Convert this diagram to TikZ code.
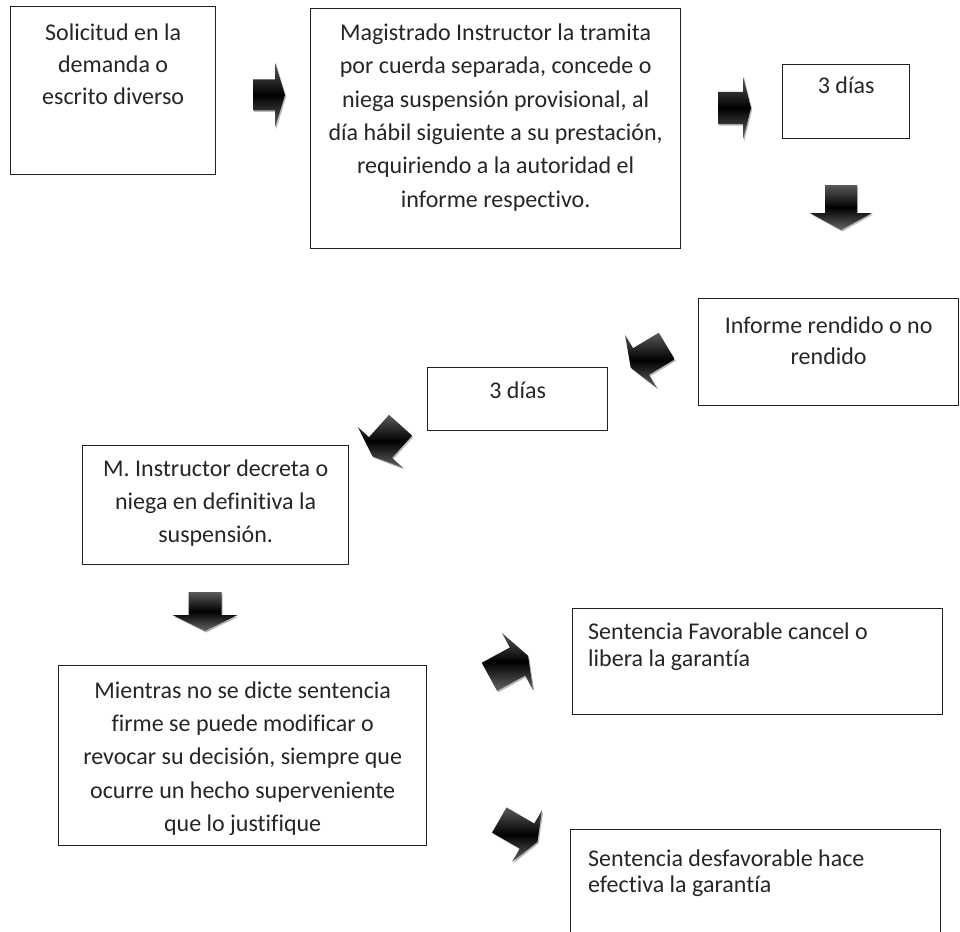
\documentclass[tikz,border=0pt]{standalone}
\usepackage{fontspec}
\setmainfont{Carlito}[Ligatures=NoCommon]
\newcommand\tstrut{\rule{0pt}{20pt}}
% #1 name, #2 x, #3 y (junction of body and head), #4 angle, #5 body length, #6 body width, #7 head width, #8 head length
\newcommand\blockarr[8]{%
  \coordinate (#1) at (#2,#3);
  \begin{scope}[shift={(#1)}]
    \fill[arrshadow] ([rotate=#4]-#5,#6/2) -- ([rotate=#4]0,#6/2) -- ([rotate=#4]0,#7/2) -- ([rotate=#4]#8,0) -- ([rotate=#4]0,-#7/2) -- ([rotate=#4]0,-#6/2) -- ([rotate=#4]-#5,-#6/2) -- cycle;
    \shade[arrshade] ([rotate=#4]-#5,#6/2) -- ([rotate=#4]0,#6/2) -- ([rotate=#4]0,#7/2) -- ([rotate=#4]#8,0) -- ([rotate=#4]0,-#7/2) -- ([rotate=#4]0,-#6/2) -- ([rotate=#4]-#5,-#6/2) -- cycle;
  \end{scope}}
\begin{document}
\begin{tikzpicture}[x=1pt,y=-1pt,
  box/.style={draw=black!88, line width=1.3pt, fill=white, inner sep=0pt, anchor=north west},
  ctext/.style={anchor=north, align=center, inner sep=0pt, text=black!85, font=\fontsize{24}{33}\selectfont},
  ltext/.style={anchor=north west, align=left, inner sep=0pt, text=black!85, font=\fontsize{24}{27}\selectfont},
  arrshade/.style={top color=black!65, bottom color=black!60, middle color=black},
  arrshadow/.style={black!28, xshift=1.2pt, yshift=-1.5pt}]
\useasboundingbox (0,0) rectangle (960,931);
\clip (0,0) rectangle (960,931);
\fill[white] (0,0) rectangle (960,931);

% boxes
\node[box, minimum width=205pt, minimum height=168pt] (b1) at (10,6) {};
\node[box, minimum width=370pt, minimum height=240pt] (b2) at (310,8) {};
\node[box, minimum width=127pt, minimum height=74pt] (b3) at (782,64) {};
\node[box, minimum width=260pt, minimum height=107pt] (b4) at (698,298) {};
\node[box, minimum width=180pt, minimum height=63pt] (b5) at (427,367) {};
\node[box, minimum width=266pt, minimum height=119pt] (b6) at (82,445) {};
\node[box, minimum width=368pt, minimum height=180pt] (b7) at (58,665) {};
\node[box, minimum width=370pt, minimum height=106pt] (b8) at (572,608) {};
\node[box, minimum width=370pt, minimum height=140pt] (b9) at (570,829) {};

% texts
\node[ctext, font=\fontsize{24}{32}\selectfont] (t1) at ([yshift=-14pt]b1.north) {\tstrut Solicitud en la\\ demanda o\\ escrito diverso};
\node[ctext, font=\fontsize{24}{33.4}\selectfont] (t2) at ([yshift=-12pt]b2.north) {\tstrut Magistrado Instructor la tramita\\ por cuerda separada, concede o\\ niega suspensión provisional, al\\ día hábil siguiente a su prestación,\\ requiriendo a la autoridad el\\ informe respectivo.};
\node[ctext] (t3) at ([yshift=-9pt]b3.north) {\tstrut 3 días};
\node[ctext, font=\fontsize{24}{31}\selectfont] (t4) at ([yshift=-15pt]b4.north) {\tstrut Informe rendido o no\\ rendido};
\node[ctext] (t5) at ([yshift=-11pt]b5.north) {\tstrut 3 días};
\node[ctext] (t6) at ([yshift=-11pt]b6.north) {\tstrut M. Instructor decreta o\\ niega en definitiva la\\ suspensión.};
\node[ctext, font=\fontsize{24}{33.3}\selectfont] (t7) at ([yshift=-13pt]b7.north) {\tstrut Mientras no se dicte sentencia\\ firme se puede modificar o\\ revocar su decisión, siempre que\\ ocurre un hecho superveniente\\ que lo justifique};
\node[ltext] (t8) at ([xshift=16pt,yshift=-11pt]b8.north west) {\tstrut Sentencia Favorable cancel o\\ libera la garantía};
\node[ltext, font=\fontsize{24}{26}\selectfont] (t9) at ([xshift=18pt,yshift=-17pt]b9.north west) {\tstrut Sentencia desfavorable hace\\ efectiva la garantía};

% block arrows
\blockarr{a1}{275}{95}{0}{22}{31}{65}{10}
\blockarr{a2}{743}{108}{0}{25}{32}{63}{8}
\blockarr{a3}{841}{213}{-90}{28}{32}{62}{17}
\blockarr{a4}{641}{361.5}{211}{30}{31}{62}{12}
\blockarr{a5}{380.5}{447.5}{228}{30}{31}{61}{12}
\blockarr{a6}{205}{615}{-90}{23}{33}{65}{16}
\blockarr{a7}{517.5}{661.5}{28.6}{32}{32}{65}{12}
\blockarr{a8}{527}{836}{-30}{32}{29}{60}{12}
\end{tikzpicture}
\end{document}
